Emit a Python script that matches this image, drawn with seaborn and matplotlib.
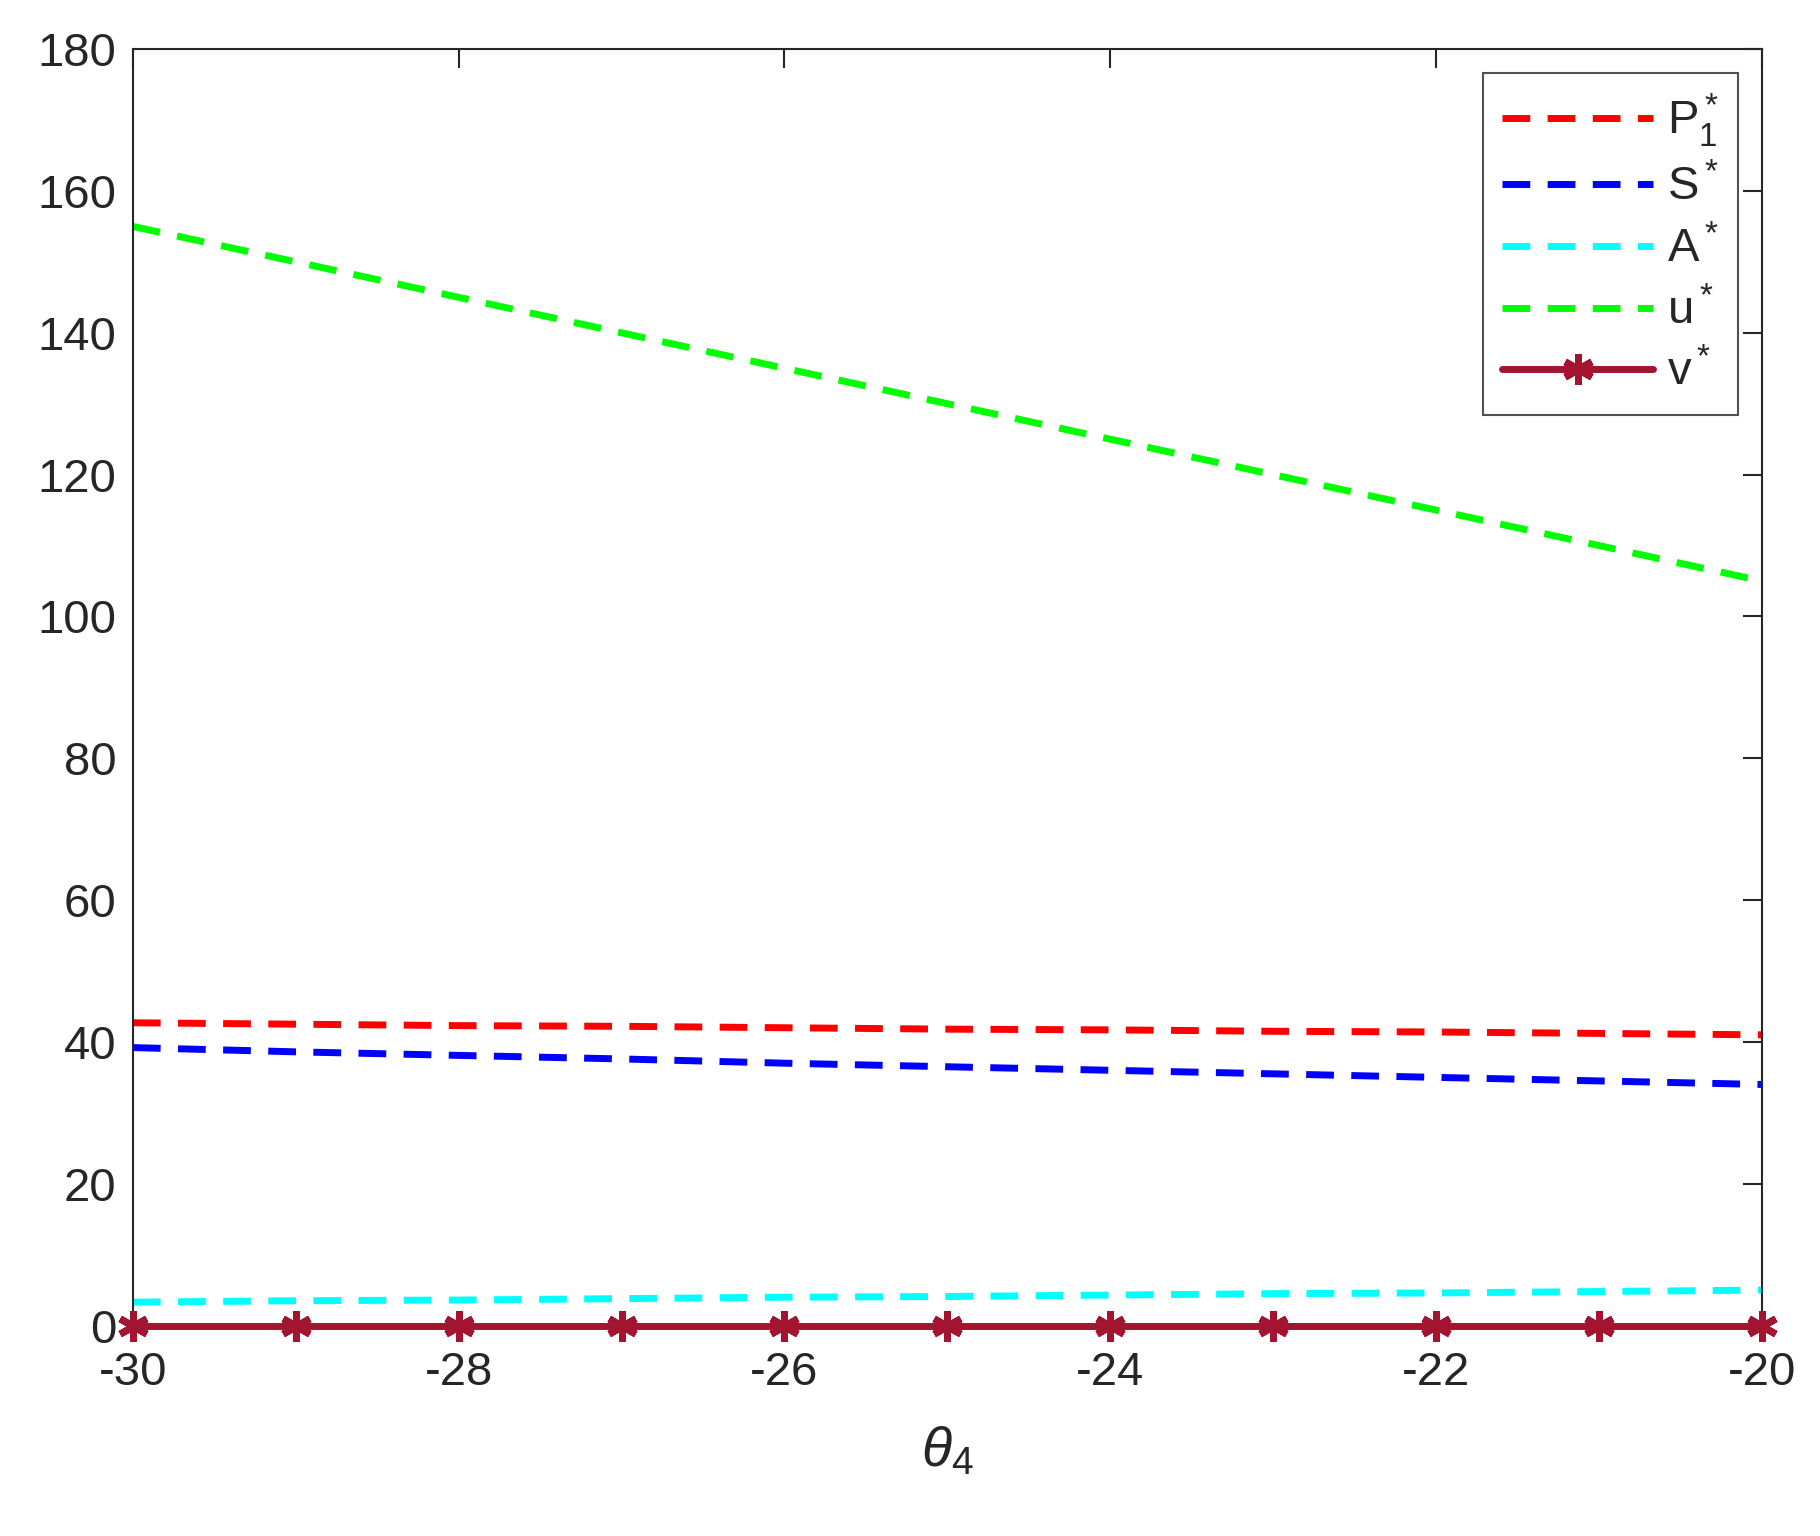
import matplotlib
matplotlib.use("Agg")
import matplotlib.pyplot as plt
import seaborn as sns
import pandas as pd

theta4 = [-30, -29, -28, -27, -26, -25, -24, -23, -22, -21, -20]
P1 = [42.7, 42.5, 42.3, 42.2, 42.0, 41.8, 41.7, 41.5, 41.4, 41.2, 41.0]
S = [39.2, 38.6, 38.1, 37.6, 37.0, 36.5, 36.0, 35.5, 35.0, 34.5, 34.0]
A = [3.3, 3.5, 3.6, 3.8, 4.0, 4.1, 4.3, 4.5, 4.6, 4.8, 5.0]
u = [155, 150, 145, 140, 135, 130, 125, 120, 115, 110, 105]
v = [0, 0, 0, 0, 0, 0, 0, 0, 0, 0, 0]

sns.set_style("white")
plt.rcParams['font.family'] = ['Liberation Sans', 'DejaVu Sans']
plt.rcParams['mathtext.fontset'] = 'custom'
plt.rcParams['mathtext.rm'] = 'Liberation Sans'
plt.rcParams['mathtext.it'] = 'Liberation Sans:italic'
plt.rcParams['axes.unicode_minus'] = False

fig = plt.figure(figsize=(18.2, 15.36), dpi=100)
ax = fig.add_axes([0.073, 0.137, 0.895, 0.831])

series = [("$\\mathrm{P}_1^*$", P1, "#ff0000", "--"),
          ("$\\mathrm{S}^*$", S, "#0000ff", "--"),
          ("$\\mathrm{A}^*$", A, "#00ffff", "--"),
          ("$\\mathrm{u}^*$", u, "#00ff00", "--"),
          ("$\\mathrm{v}^*$", v, "#a2142f", "-")]
for lab, y, c, ls in series:
    df = pd.DataFrame({"x": theta4, "y": y})
    if ls == "--":
        sns.lineplot(data=df, x="x", y="y", ax=ax, color=c, label=lab, linewidth=5)
        ax.lines[-1].set_dashes([4, 2.5])
    else:
        sns.lineplot(data=df, x="x", y="y", ax=ax, color=c, label=lab, linewidth=5,
                     marker=(6, 2, 0), markersize=22, markeredgewidth=5,
                     markeredgecolor=c, clip_on=False, zorder=5)

ax.set_xlim(-30, -20)
ax.set_ylim(0, 180)
ax.set_xticks(range(-30, -19, 2))
ax.set_yticks(range(0, 181, 20))
ax.tick_params(direction='in', length=14, width=1.5, labelsize=34, top=True, right=True,
               colors='#262626')
ax.tick_params(axis='x', pad=18)
ax.tick_params(axis='y', pad=12)
for sp in ax.spines.values():
    sp.set_linewidth(1.5)
    sp.set_color('#262626')
ax.set_xlabel("$\\theta_4$", fontsize=40, color='#262626', labelpad=22)
ax.set_ylabel("")
leg = ax.legend(loc='upper right', fontsize=34, frameon=True, fancybox=False,
                edgecolor='#262626', handlelength=3.2, borderpad=0.4, labelspacing=0.35,
                handletextpad=0.3)
leg.get_frame().set_linewidth(1.5)
fig.savefig("out.png", dpi=100)
